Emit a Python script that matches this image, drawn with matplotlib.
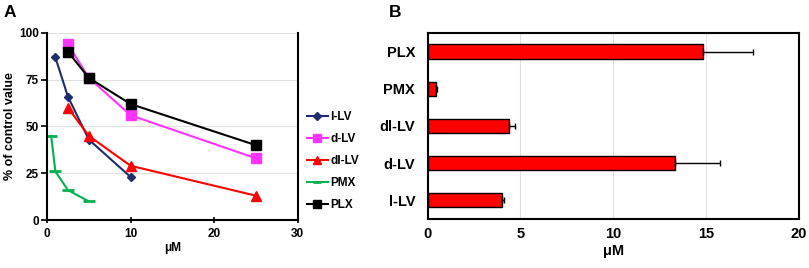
import matplotlib.pyplot as plt
import numpy as np

plt.rcParams['font.family'] = ['Liberation Sans', 'DejaVu Sans']
plt.rcParams['font.weight'] = 'bold'

# panel A: concentration-response
lLV_x = [1, 2.5, 5, 10]
lLV_y = [87, 66, 43, 23]
dLV_x = [2.5, 5, 10, 25]
dLV_y = [94, 76, 56, 33]
dlLV_x = [2.5, 5, 10, 25]
dlLV_y = [60, 45, 29, 13]
PMX_x = [0.5, 1, 2.5, 5]
PMX_y = [45, 26, 16, 10]
PLX_x = [2.5, 5, 10, 25]
PLX_y = [90, 76, 62, 40]

# panel B: IC50
drugs = ["l-LV", "d-LV", "dl-LV", "PMX", "PLX"]
ic50 = [3.98, 13.33, 4.38, 0.45, 14.84]
ic50_err = [0.15, 2.4, 0.3, 0.05, 2.7]

fig = plt.figure(figsize=(8.09, 2.68), dpi=100)

axA = fig.add_axes([0.0581, 0.179, 0.310, 0.698])
axA.plot(lLV_x, lLV_y, color="#1F2D6E", marker="D", ms=4.5, lw=1.5, label="l-LV")
axA.plot(dLV_x, dLV_y, color="#FF33FF", marker="s", ms=6.5, lw=1.5, label="d-LV")
axA.plot(dlLV_x, dlLV_y, color="#FF0000", marker="^", ms=6.5, lw=1.5, label="dl-LV")
axA.plot(PMX_x, PMX_y, color="#00B050", marker="_", ms=8, mew=2, lw=1.5, label="PMX")
axA.plot(PLX_x, PLX_y, color="black", marker="s", ms=7.5, lw=1.5, label="PLX")
axA.set_xlim(0, 30)
axA.set_ylim(0, 100)
axA.set_xticks([0, 10, 20, 30])
axA.set_yticks([0, 25, 50, 75, 100])
axA.yaxis.grid(True, color="#E0E0E0", lw=0.8)
axA.set_axisbelow(True)
axA.spines['top'].set_visible(False)
for s in ['left', 'bottom', 'right']:
    axA.spines[s].set_linewidth(1.5)
axA.tick_params(labelsize=8.5, width=1.2, length=4)
axA.tick_params(axis='y', pad=2)
axA.tick_params(axis='x', direction='inout')
axA.set_xlabel("μM", fontsize=8.5, fontweight='bold', labelpad=2)
axA.set_ylabel("% of control value", fontsize=9, fontweight='bold', labelpad=2)
axA.legend(loc='center left', bbox_to_anchor=(0.372, 0.40), bbox_transform=fig.transFigure,
           frameon=False, fontsize=8.5, handlelength=1.8, handletextpad=0.2,
           labelspacing=0.85, borderpad=0, markerscale=0.8)

axB = fig.add_axes([0.5287, 0.183, 0.4586, 0.694])
pos = np.arange(len(drugs))
axB.barh(pos, ic50, height=0.38, color="#FF0000", edgecolor="black", lw=1,
         xerr=[np.zeros(len(ic50_err)), ic50_err],
         error_kw=dict(ecolor="black", elinewidth=1, capsize=2, capthick=1))
axB.set_yticks(pos)
axB.set_yticklabels(drugs)
axB.set_ylim(-0.5, len(drugs) - 0.5)
axB.set_xlim(0, 20)
axB.set_xticks([0, 5, 10, 15, 20])
axB.xaxis.grid(True, color="#E0E0E0", lw=0.8)
axB.set_axisbelow(True)
for s in axB.spines.values():
    s.set_linewidth(1.5)
axB.tick_params(labelsize=10.5, length=0, pad=9)
axB.tick_params(axis='x', pad=6)
axB.set_xlabel("μM", fontsize=10.5, fontweight='bold', labelpad=2)

fig.text(0.004, 0.935, "A", fontsize=12.5, fontweight='bold', va='baseline')
fig.text(0.481, 0.935, "B", fontsize=12.5, fontweight='bold', va='baseline')

fig.savefig("out.png", dpi=100)
